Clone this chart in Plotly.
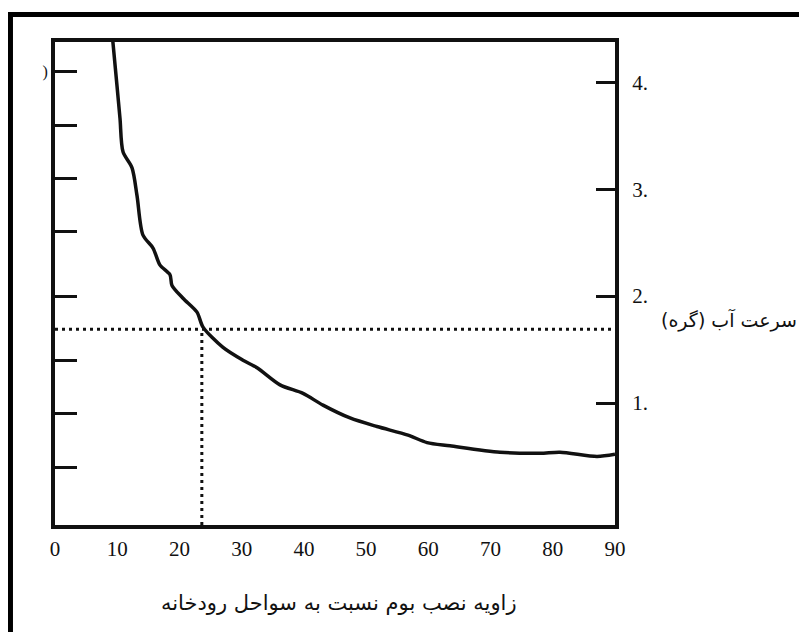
import plotly.graph_objects as go

# curve (angle in degrees, speed in knots)
angle = [9.3, 9.96, 10.45, 10.93, 12.38, 13.18, 14.14, 15.75, 16.88, 18.48, 18.8,
         20.57, 22.82, 23.79, 27.0, 30.21, 32.47, 36.16, 39.86, 43.07, 47.41,
         51.75, 56.73, 59.79, 63.48, 71.52, 77.95, 81.16, 87.11, 90.0]
speed = [4.38, 3.97, 3.66, 3.35, 3.2, 2.94, 2.57, 2.45, 2.29, 2.2, 2.1,
         1.98, 1.85, 1.71, 1.52, 1.4, 1.33, 1.17, 1.09, 0.98, 0.86,
         0.78, 0.70, 0.63, 0.60, 0.54, 0.53, 0.54, 0.50, 0.52]

# reading guide
guide_angle = 23.6
guide_speed = 1.69

x_range = [0, 90]
y_range = [-0.141, 4.377]

x_ticks = [0, 10, 20, 30, 40, 50, 60, 70, 80, 90]
right_ticks = [1, 2, 3, 4]
right_labels = ["1.", "2.", "3.", "4."]
left_ticks = [0.4, 0.9, 1.4, 2.0, 2.6, 3.1, 3.6, 4.1]
left_labels = ["", "", "", "", "", "", "", ")"]

x_title = "زاویه نصب بوم نسبت به سواحل رودخانه"
y_title = "سرعت آب (گره)"

fig = go.Figure()

fig.add_trace(go.Scatter(x=[x_range[0], x_range[1]], y=[guide_speed, guide_speed],
                         mode="lines", line=dict(color="#111", width=3, dash="3px,4px"),
                         hoverinfo="skip"))
fig.add_trace(go.Scatter(x=[guide_angle, guide_angle], y=[y_range[0], guide_speed],
                         mode="lines", line=dict(color="#111", width=3, dash="3px,4px"),
                         hoverinfo="skip"))
fig.add_trace(go.Scatter(x=angle, y=speed, mode="lines",
                         line=dict(color="#111", width=3.5, shape="spline", smoothing=0.8)))

# invisible point so the right axis gets drawn
fig.add_trace(go.Scatter(x=[x_range[0]], y=[y_range[0]], yaxis="y2", mode="markers",
                         marker=dict(opacity=0), hoverinfo="skip"))

# page body has an 8px margin, so the figure is 8px smaller than the window
fig.update_layout(
    width=799, height=624,
    margin=dict(l=47, r=192, t=34, b=107),
    paper_bgcolor="white", plot_bgcolor="white",
    showlegend=False,
    font=dict(family="Liberation Serif", color="#111"),
    xaxis=dict(range=x_range, tickvals=x_ticks, showgrid=False, zeroline=False,
               showline=True, mirror=True, linecolor="#111", linewidth=4,
               ticks="", tickfont=dict(size=21, family="Liberation Serif"),
               ticklabelstandoff=2),
    yaxis=dict(range=y_range, tickvals=left_ticks, ticktext=left_labels,
               showgrid=False, zeroline=False, showline=True, linecolor="#111",
               linewidth=4, ticks="inside", ticklen=22, tickwidth=3, tickcolor="#111",
               tickfont=dict(size=16)),
    yaxis2=dict(range=y_range, overlaying="y", side="right", tickvals=right_ticks,
                ticktext=right_labels, showgrid=False, zeroline=False, showline=True,
                linecolor="#111", linewidth=4, ticks="inside", ticklen=19, tickwidth=3,
                tickcolor="#111", tickfont=dict(size=21, family="Liberation Serif"),
                ticklabelstandoff=9),
    shapes=[
        dict(type="line", xref="paper", yref="paper", x0=-0.0795, x1=-0.0795, y0=1.062, y1=-0.25,
             line=dict(color="black", width=5)),
        dict(type="line", xref="paper", yref="paper", x0=-0.084, x1=1.4, y0=1.057, y1=1.057,
             line=dict(color="black", width=5)),
    ],
    annotations=[
        dict(text=x_title, xref="paper", yref="paper", x=0.507, y=-0.161,
             xanchor="center", yanchor="middle", showarrow=False,
             font=dict(family="DejaVu Sans", size=21, color="#111")),
        dict(text=y_title, xref="paper", yref="paper", x=1.079, y=0.4244,
             xanchor="left", yanchor="middle", showarrow=False,
             font=dict(family="DejaVu Sans", size=19, color="#111")),
    ],
)

fig.write_html("out.html")
